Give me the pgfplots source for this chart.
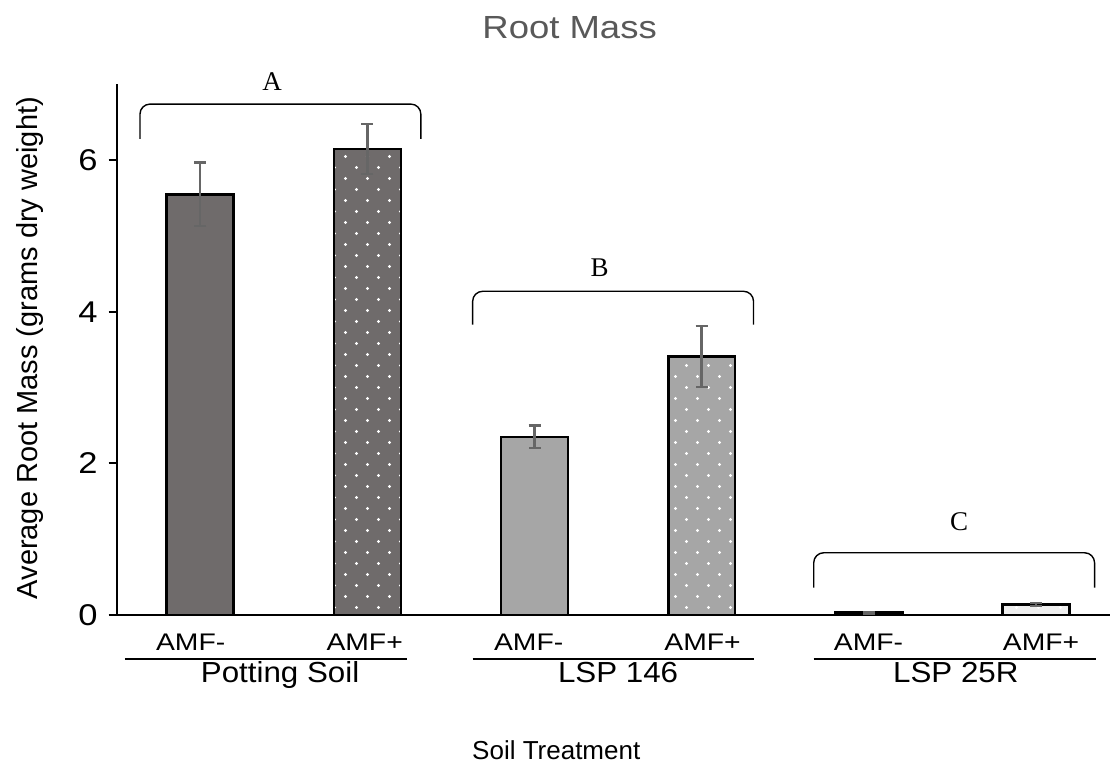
\documentclass[border=0pt]{standalone}
\usepackage{pgfplots}
\pgfplotsset{compat=1.18}
\usetikzlibrary{patterns.meta}
\usepackage{fontspec}
\setmainfont{Liberation Sans}
\newfontfamily\seriffont{Liberation Serif}
\newfontfamily\amffont[FakeStretch=1.18]{Liberation Sans}
\newfontfamily\grpfont[FakeStretch=1.08]{Liberation Sans}
\newfontfamily\tickfont[FakeStretch=1.15]{Liberation Sans}
\newfontfamily\titlefont[FakeStretch=1.14]{Liberation Sans}
\definecolor{darkbar}{HTML}{6F6B6B}
\definecolor{midbar}{HTML}{A6A6A6}
\definecolor{lightbar}{HTML}{EEEEEE}
\definecolor{errgray}{HTML}{666666}
\definecolor{titlegray}{HTML}{595959}
\tikzdeclarepattern{
  name=sparsedots,
  type=uncolored,
  bottom left={(0pt,0pt)},
  top right={(11pt,11pt)},
  tile size={(11pt,11pt)},
  code={
    \fill (2.75pt,2.75pt) circle (0.8pt);
    \fill (8.25pt,8.25pt) circle (0.8pt);
  }
}
\pgfplotsset{
  mybar/.style={ybar, bar width=0.4, bar shift=0pt, draw=black, line width=1.25pt,
    error bars/y dir=both, error bars/y explicit,
    error bars/error bar style={errgray, line width=1.25pt},
    error bars/error mark options={errgray, line width=1.25pt, mark size=3pt, rotate=90}},
  dots/.style={postaction={pattern=sparsedots, pattern color=white}},
}
\tikzset{
  amf/.style={anchor=base, font=\amffont\fontsize{12}{14}\selectfont, inner sep=0pt},
  grp/.style={anchor=base, font=\grpfont\fontsize{14.5}{16}\selectfont, inner sep=0pt},
  letter/.style={font=\seriffont\fontsize{13.5}{15}\selectfont},
}
\begin{document}
\begin{tikzpicture}
\useasboundingbox (-58.3pt,-76pt) rectangle (497.8pt,307.5pt);
\begin{axis}[
  at={(0,0)}, anchor=south west,
  scale only axis, width=496.6pt, height=265.3pt,
  xmin=-0.5, xmax=5.44, ymin=0, ymax=7,
  axis x line*=bottom, axis y line*=left,
  axis line style={-, line width=1pt, black},
  xtick=\empty,
  ytick={0,2,4,6},
  tick align=outside,
  major tick length=4pt,
  every tick/.style={black, line width=1pt},
  yticklabel style={font=\tickfont\fontsize{15}{17}\selectfont, xshift=-2pt, /pgf/number format/assume math mode=true},
  clip=false,
]
\addplot[mybar, fill=darkbar] coordinates {(0,5.55) +- (0,0.42)};
\addplot[mybar, fill=darkbar, dots] coordinates {(1,6.15) +- (0,0.33)};
\addplot[mybar, fill=midbar] coordinates {(2,2.35) +- (0,0.15)};
\addplot[mybar, fill=midbar, dots] coordinates {(3,3.41) +- (0,0.40)};
\addplot[mybar, fill=darkbar] coordinates {(4,0.03) +- (0,0.01)};
\addplot[mybar, fill=lightbar, dots] coordinates {(5,0.14) +- (0,0.02)};

% brackets
\draw[line width=0.7pt, rounded corners=5pt] (axis cs:-0.36,6.28) -- (axis cs:-0.36,6.74) -- (axis cs:1.32,6.74) -- (axis cs:1.32,6.28);
\draw[line width=0.7pt, rounded corners=5pt] (axis cs:1.63,3.83) -- (axis cs:1.63,4.27) -- (axis cs:3.31,4.27) -- (axis cs:3.31,3.83);
\draw[line width=0.7pt, rounded corners=5pt] (axis cs:3.67,0.36) -- (axis cs:3.67,0.82) -- (axis cs:5.35,0.82) -- (axis cs:5.35,0.36);
\node[letter] at (axis cs:0.43,7.04) {A};
\node[letter] at (axis cs:2.39,4.58) {B};
\node[letter] at (axis cs:4.54,1.23) {C};

% category labels
\node[amf] at (axis cs:-0.057,-0.475) {AMF-};
\node[amf] at (axis cs:0.984,-0.475) {AMF+};
\node[amf] at (axis cs:1.965,-0.475) {AMF-};
\node[amf] at (axis cs:3.005,-0.475) {AMF+};
\node[amf] at (axis cs:3.998,-0.475) {AMF-};
\node[amf] at (axis cs:5.03,-0.475) {AMF+};
\draw[line width=1pt] (axis cs:-0.45,-0.58) -- (axis cs:1.24,-0.58);
\draw[line width=1pt] (axis cs:1.63,-0.58) -- (axis cs:3.31,-0.58);
\draw[line width=1pt] (axis cs:3.67,-0.58) -- (axis cs:5.36,-0.58);
\node[grp] at (axis cs:0.478,-0.897) {Potting Soil};
\node[grp] at (axis cs:2.50,-0.897) {LSP 146};
\node[grp] at (axis cs:4.52,-0.897) {LSP 25R};

% titles
\node[font=\titlefont\fontsize{16}{18}\selectfont, text=titlegray] at (axis cs:2.21,7.75) {Root Mass};
\node[font=\fontsize{13}{15}\selectfont] at (axis cs:2.13,-1.78) {Soil Treatment};
\node[rotate=90, font=\fontsize{14.5}{16}\selectfont] at ([xshift=-43.5pt]axis cs:-0.5,3.52) {Average Root Mass (grams dry weight)};
\end{axis}
\end{tikzpicture}
\end{document}
